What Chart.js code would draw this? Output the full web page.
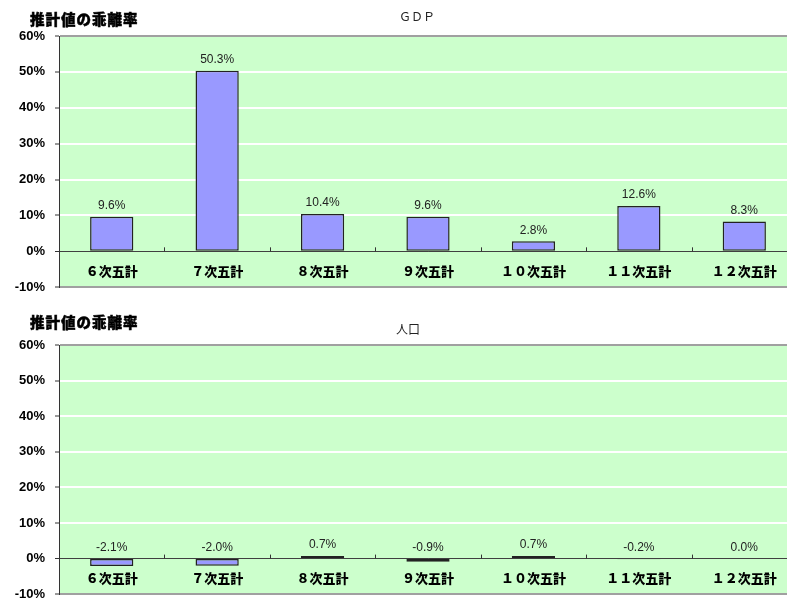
<!DOCTYPE html>
<html lang="ja">
<head>
<meta charset="UTF-8">
<title>推計値の乖離率</title>
<script src="https://cdn.jsdelivr.net/npm/chart.js@4"></script>
<style>
  html, body { margin: 0; padding: 0; background: #fff; overflow: hidden; width: 787px; height: 599px; }
  .panel { position: absolute; left: 0; }
  .caption { position: absolute; left: 30px; font: 900 14.5px "Noto Sans CJK JP"; line-height: 16px; letter-spacing: 1px; color: #000; white-space: nowrap; -webkit-text-stroke: 0.5px #000; }
  .title { position: absolute; font: 12px "Noto Sans CJK JP"; line-height: 14px; color: #222; transform: translateX(-50%); white-space: nowrap; }
</style>
</head>
<body>
  <div class="panel" style="top:0"><canvas id="gdpChart" width="820" height="305"></canvas></div>
  <div class="panel" style="top:300px"><canvas id="popChart" width="820" height="312"></canvas></div>

  <div class="caption" style="top:11px">推計値の乖離率</div>
  <div class="title" style="left:417px; top:9px">ＧＤＰ</div>
  <div class="caption" style="top:314px">推計値の乖離率</div>
  <div class="title" style="left:408px; top:322px">人口</div>

  <script>
    const categories = ["６次五計", "７次五計", "８次五計", "９次五計", "１０次五計", "１１次五計", "１２次五計"]
    const gdpValues = [9.6, 50.3, 10.4, 9.6, 2.8, 12.6, 8.3]
    const popValues = [-2.1, -2.0, 0.7, -0.9, 0.7, -0.2, 0.0]
    const yMin = -10
    const yMax = 60
    const yStep = 10

    // green plot background
    const plotBackground = {
      id: 'plotBackground',
      beforeDraw(chart) {
        const { ctx, chartArea: a } = chart
        ctx.save()
        ctx.fillStyle = '#CCFFCC'
        ctx.fillRect(a.left, a.top, a.right - a.left, a.bottom - a.top)
        ctx.restore()
      }
    }

    // small tick marks between categories, sitting on the zero line
    const categoryTicks = {
      id: 'categoryTicks',
      afterDraw(chart) {
        const { ctx, scales: { x, y } } = chart
        const y0 = y.getPixelForValue(0)
        ctx.save()
        ctx.strokeStyle = '#333'
        ctx.lineWidth = 1
        for (let i = 1; i < categories.length; i++) {
          const px = Math.round((x.getPixelForValue(i - 1) + x.getPixelForValue(i)) / 2) + 0.5
          ctx.beginPath()
          ctx.moveTo(px, y0 - 4)
          ctx.lineTo(px, y0)
          ctx.stroke()
        }
        ctx.restore()
      }
    }

    // value labels above each bar
    const valueLabels = {
      id: 'valueLabels',
      afterDatasetsDraw(chart) {
        const { ctx } = chart
        const values = chart.data.datasets[0].data
        const meta = chart.getDatasetMeta(0)
        ctx.save()
        ctx.font = '12px "Liberation Sans"'
        ctx.fillStyle = '#222'
        ctx.textAlign = 'center'
        ctx.textBaseline = 'bottom'
        meta.data.forEach((bar, i) => {
          const v = values[i]
          const top = v >= 0 ? bar.y : bar.base
          ctx.fillText(v.toFixed(1) + '%', bar.x, top - 5)
        })
        ctx.restore()
      }
    }

    function makeChart(id, values, padTop) {
      const ctx = document.getElementById(id).getContext('2d')
      return new Chart(ctx, {
        type: 'bar',
        data: {
          labels: categories,
          datasets: [{
            data: values,
            backgroundColor: '#9999FF',
            borderColor: '#222',
            borderWidth: 1.5,
            borderSkipped: false,
            categoryPercentage: 1,
            barPercentage: 0.41
          }]
        },
        options: {
          responsive: false,
          animation: false,
          layout: { padding: { top: padTop, bottom: 0, left: 0, right: 23 } },
          plugins: {
            legend: { display: false },
            tooltip: { enabled: false }
          },
          scales: {
            x: {
              type: 'category',
              position: { y: 0 },
              offset: true,
              grid: { drawOnChartArea: false, drawTicks: false },
              border: { display: true, color: '#404040', width: 1 },
              ticks: {
                color: '#000',
                font: { family: 'Noto Sans CJK JP', weight: '900', size: 13 },
                padding: 12,
                maxRotation: 0,
                autoSkip: false
              }
            },
            y: {
              min: yMin,
              max: yMax,
              ticks: {
                stepSize: yStep,
                callback: v => v + '%',
                color: '#000',
                font: { family: 'Liberation Sans', weight: 'bold', size: 13 },
                padding: 10
              },
              grid: {
                color: c => {
                  const v = c.tick && c.tick.value
                  if (v === 0) return '#404040'
                  if (v === yMax || v === yMin) return '#A0A0A0'
                  return '#FFFFFF'
                },
                lineWidth: c => (c.tick && c.tick.value === 0) ? 1 : 2,
                tickColor: '#333',
                tickLength: 4,
                tickWidth: 1
              },
              border: { display: true, color: '#333', width: 1 },
              afterFit: s => { s.width = 59 }
            }
          }
        },
        plugins: [plotBackground, categoryTicks, valueLabels]
      })
    }

    makeChart('gdpChart', gdpValues, 36)
    makeChart('popChart', popValues, 45)
  </script>
</body>
</html>
